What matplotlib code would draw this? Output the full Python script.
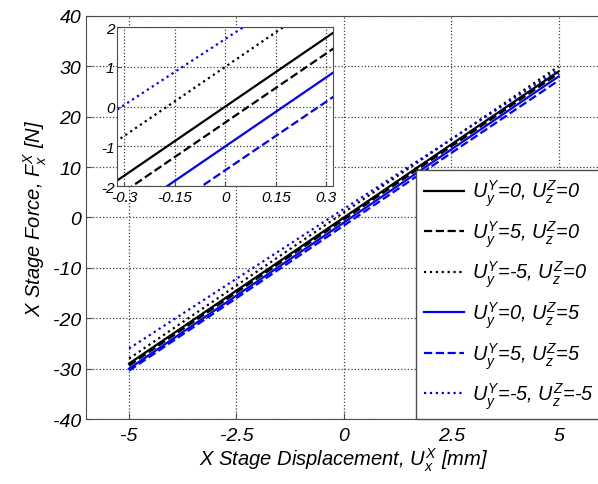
import matplotlib
matplotlib.use('Agg')
import matplotlib.pyplot as plt

# ===== DATA

x_disp = [-5, 0, 5]
f_y0_z0 = [-29.0, 0.0, 29.0]
f_y5_z0 = [-29.4, -0.4, 28.6]
f_ym5_z0 = [-28.0, 1.0, 30.0]
f_y0_z5 = [-30.0, -1.0, 28.0]
f_y5_z5 = [-30.4, -1.6, 27.2]
f_ym5_zm5 = [-26.0, 1.7, 29.4]

series = [
    (f_y0_z0, 'k', '-', r'$U_y^Y$=0, $U_z^Z$=0'),
    (f_y5_z0, 'k', '--', r'$U_y^Y$=5, $U_z^Z$=0'),
    (f_ym5_z0, 'k', ':', r'$U_y^Y$=-5, $U_z^Z$=0'),
    (f_y0_z5, 'b', '-', r'$U_y^Y$=0, $U_z^Z$=5'),
    (f_y5_z5, 'b', '--', r'$U_y^Y$=5, $U_z^Z$=5'),
    (f_ym5_zm5, 'b', ':', r'$U_y^Y$=-5, $U_z^Z$=-5'),
]

x_ticks = [-5, -2.5, 0, 2.5, 5]
x_ticklabels = ['-5', '-2.5', '0', '2.5', '5']
y_ticks = [-40, -30, -20, -10, 0, 10, 20, 30, 40]
inset_xticks = [-0.3, -0.15, 0, 0.15, 0.3]
inset_xticklabels = ['-0.3', '-0.15', '0', '0.15', '0.3']
inset_yticks = [-2, -1, 0, 1, 2]

# ===== DISPLAY

plt.rcParams['font.family'] = ['Liberation Sans', 'DejaVu Sans']
plt.rcParams['font.style'] = 'italic'
plt.rcParams['axes.unicode_minus'] = False
plt.rcParams['mathtext.fontset'] = 'custom'
plt.rcParams['mathtext.it'] = 'Liberation Sans:italic'
plt.rcParams['mathtext.rm'] = 'Liberation Sans:italic'
plt.rcParams['mathtext.default'] = 'it'

fig = plt.figure(figsize=(5.98, 4.85), dpi=100)
ax = fig.add_axes([0.144, 0.134, 0.862, 0.831])

for ys, col, ls, lab in series:
    ax.plot(x_disp, ys, color=col, linestyle=ls, linewidth=1.6, label=lab)

ax.set_xlim(-6, 6)
ax.set_ylim(-40, 40)
ax.set_xticks(x_ticks, labels=x_ticklabels)
ax.set_yticks(y_ticks)
ax.tick_params(direction='in', labelsize=14, length=4, color='0.3')
ax.tick_params(axis='x', pad=6)
ax.grid(True, linestyle=':', color='0.25', linewidth=0.9)
for sp in ax.spines.values():
    sp.set_color('0.3')
ax.set_xlabel(r'X Stage Displacement, $U_x^X$ [mm]', fontsize=14.5, labelpad=1)
ax.set_ylabel(r'X Stage Force, $F_x^X$ [N]', fontsize=14.5, labelpad=3)

leg = ax.legend(loc='lower right', fontsize=14.3, handlelength=2.0,
                labelspacing=0.5, borderaxespad=0, fancybox=False,
                framealpha=1, edgecolor='0.3', handletextpad=0.4,
                borderpad=0.4)
leg.get_frame().set_linewidth(1.0)

# inset zoom near the origin
axin = fig.add_axes([0.196, 0.614, 0.361, 0.328])
for ys, col, ls, lab in series:
    axin.plot(x_disp, ys, color=col, linestyle=ls, linewidth=1.6)
axin.set_xlim(-0.32, 0.32)
axin.set_ylim(-2, 2)
axin.set_xticks(inset_xticks, labels=inset_xticklabels)
axin.set_yticks(inset_yticks)
axin.tick_params(direction='in', labelsize=11, length=3, color='0.3')
axin.tick_params(axis='x', pad=3)
axin.tick_params(axis='y', pad=2)
axin.grid(True, linestyle=':', color='0.25', linewidth=0.9)
for sp in axin.spines.values():
    sp.set_color('0.3')

fig.savefig('out.png', dpi=100)
